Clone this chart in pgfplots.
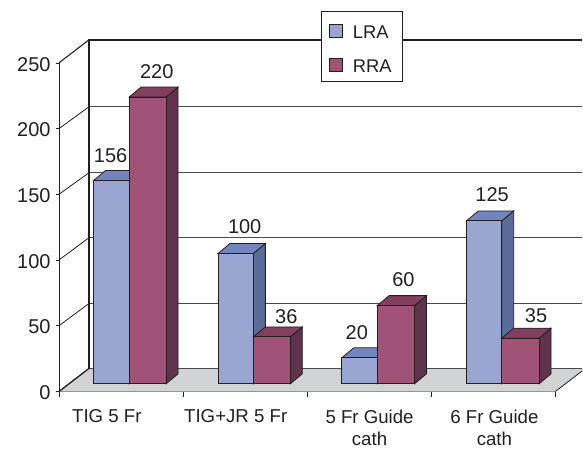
\documentclass[border=0pt]{standalone}
\usepackage{fontspec}
\setmainfont{Liberation Sans}
\usepackage{pgfplots}
\pgfplotsset{compat=1.18}
\definecolor{ink}{HTML}{231F20}
\definecolor{gridc}{HTML}{4A4A4C}
\definecolor{floorc}{HTML}{D1D3D4}
\definecolor{lraF}{HTML}{9AA6D2}
\definecolor{lraT}{HTML}{7285BF}
\definecolor{lraS}{HTML}{5C6C9A}
\definecolor{rraF}{HTML}{A05277}
\definecolor{rraT}{HTML}{823F60}
\definecolor{rraS}{HTML}{60324B}
% 3D bar: left x, right x, value, colour prefix
\newcommand{\threedbar}[4]{%
  \pgfmathsetmacro\xb{#2+12}%
  \pgfmathsetmacro\xc{#1+12}%
  \pgfmathsetmacro\vt{#3+7.66}%
  \addplot[draw=ink,line width=0.6pt,fill=#4S,forget plot] coordinates {(#2,0) (\xb,7.66) (\xb,\vt) (#2,#3)} -- cycle;
  \addplot[draw=ink,line width=0.6pt,fill=#4T,forget plot] coordinates {(#1,#3) (\xc,\vt) (\xb,\vt) (#2,#3)} -- cycle;
  \addplot[draw=ink,line width=0.6pt,fill=#4F,forget plot] coordinates {(#1,0) (#1,#3) (#2,#3) (#2,0)} -- cycle;
}
% value label: x px, value, rise above the front top edge in px
\newcommand{\vlab}[3]{\node[text=ink,font=\fontsize{15}{15}\selectfont] at (axis cs:#1,#2) [yshift=#3*0.75pt] {#2};}
\begin{document}
\begin{tikzpicture}
\begin{axis}[
  at={(0pt,0pt)},anchor=south west,
  scale only axis,width=372.75pt,height=246.75pt,
  xmin=59,xmax=556,ymin=0,ymax=250,clip=false,
  axis y line*=left,axis x line*=bottom,
  x axis line style={-,line width=1.1pt,draw=ink},
  y axis line style={-,line width=0.6pt,draw=ink},
  ytick={0,50,100,150,200,250},
  ytick style={draw=ink,line width=0.6pt},
  tick align=outside,
  major tick length=2.5pt,
  xtick={107,236,370,495},
  xticklabels={TIG 5 Fr,TIG+JR 5 Fr,5 Fr Guide\\cath,6 Fr Guide\\cath},
  x tick style={draw=none},
  extra x ticks={59,183.25,307.5,431.75,556},
  extra x tick labels={},
  extra x tick style={x tick style={draw=ink,line width=0.6pt},major tick length=4pt},
  /pgf/number format/assume math mode=true,
  yticklabel style={font=\fontsize{15}{15}\selectfont,text=ink,inner xsep=3.6pt,yshift=-1pt},
  xticklabel style={font=\fontsize{14}{17}\selectfont,text=ink,align=center,anchor=north,yshift=-7.5pt},
]
% floor
\addplot[draw=none,fill=floorc] coordinates {(59,0) (89,17.5) (583,17.5) (583,15.7) (556,0)} -- cycle;
\addplot[ink,line width=0.6pt] coordinates {(556,0) (583,15.7)};
\addplot[ink,line width=1pt] coordinates {(59,0) (89,17.5)};
\addplot[gridc,line width=0.8pt] coordinates {(89,17.5) (583,17.5)};
% grid: front edge to back wall
\addplot[ink,line width=0.6pt] coordinates {(59,50) (89,66.9)};
\addplot[ink,line width=0.6pt] coordinates {(59,100) (89,117)};
\addplot[ink,line width=0.6pt] coordinates {(59,150) (89,166.4)};
\addplot[ink,line width=0.6pt] coordinates {(59,200) (89,216.6)};
\addplot[ink,line width=0.8pt] coordinates {(59,250) (89,267.5)};
\addplot[gridc,line width=0.8pt] coordinates {(89,66.9) (583,66.9)};
\addplot[gridc,line width=0.8pt] coordinates {(89,117) (583,117)};
\addplot[gridc,line width=0.8pt] coordinates {(89,166.4) (583,166.4)};
\addplot[gridc,line width=0.8pt] coordinates {(89,216.6) (583,216.6)};
\addplot[ink,line width=1.1pt] coordinates {(89,17.5) (89,267.5) (583,267.5)};
\end{axis}
\begin{axis}[
  at={(0pt,5.775pt)},anchor=south west,
  scale only axis,width=372.75pt,height=244.69pt,
  xmin=59,xmax=556,ymin=0,ymax=250,clip=false,hide axis,
  legend style={at={(0.5286,1.1432)},anchor=north west,draw=ink,line width=0.6pt,fill=white,
    font=\fontsize{13.8}{13.8}\selectfont,text=ink,
    inner xsep=5.7pt,inner ysep=5.8pt,
    row sep=10.5pt},
  legend cell align=left,
]
\threedbar{93.7}{129.3}{156}{lra}
\threedbar{129.3}{166.3}{220}{rra}
\threedbar{218.3}{253.7}{100}{lra}
\threedbar{253.7}{290.7}{36}{rra}
\threedbar{342.3}{377.7}{20}{lra}
\threedbar{377.7}{415}{60}{rra}
\threedbar{467}{502.3}{125}{lra}
\threedbar{502.3}{539.7}{35}{rra}
\vlab{110.7}{156}{25.3}
\vlab{157}{220}{25.3}
\vlab{245}{100}{27}
\vlab{286.7}{36}{20.6}
\vlab{357.3}{20}{25.3}
\vlab{404}{60}{26.3}
\vlab{492.7}{125}{26}
\vlab{536.7}{35}{22.3}
\addlegendimage{legend image code/.code={\draw[draw=ink,line width=0.6pt,fill=lraF] (0pt,-5.7pt) rectangle (9.5pt,3.7pt);}}
\addlegendentry{\hspace{5.6pt}\vphantom{LRA}\smash{\raisebox{-3pt}{LRA}}\hspace{13pt}}
\addlegendimage{legend image code/.code={\draw[draw=ink,line width=0.6pt,fill=rraF] (0pt,-5.7pt) rectangle (9.5pt,3.7pt);}}
\addlegendentry{\hspace{5.6pt}\vphantom{RRA}\smash{\raisebox{-3pt}{RRA}}\hspace{13pt}}
\end{axis}
\path[use as bounding box] (-44.25pt,-42.75pt) rectangle (393pt,294pt);
\end{tikzpicture}
\end{document}
